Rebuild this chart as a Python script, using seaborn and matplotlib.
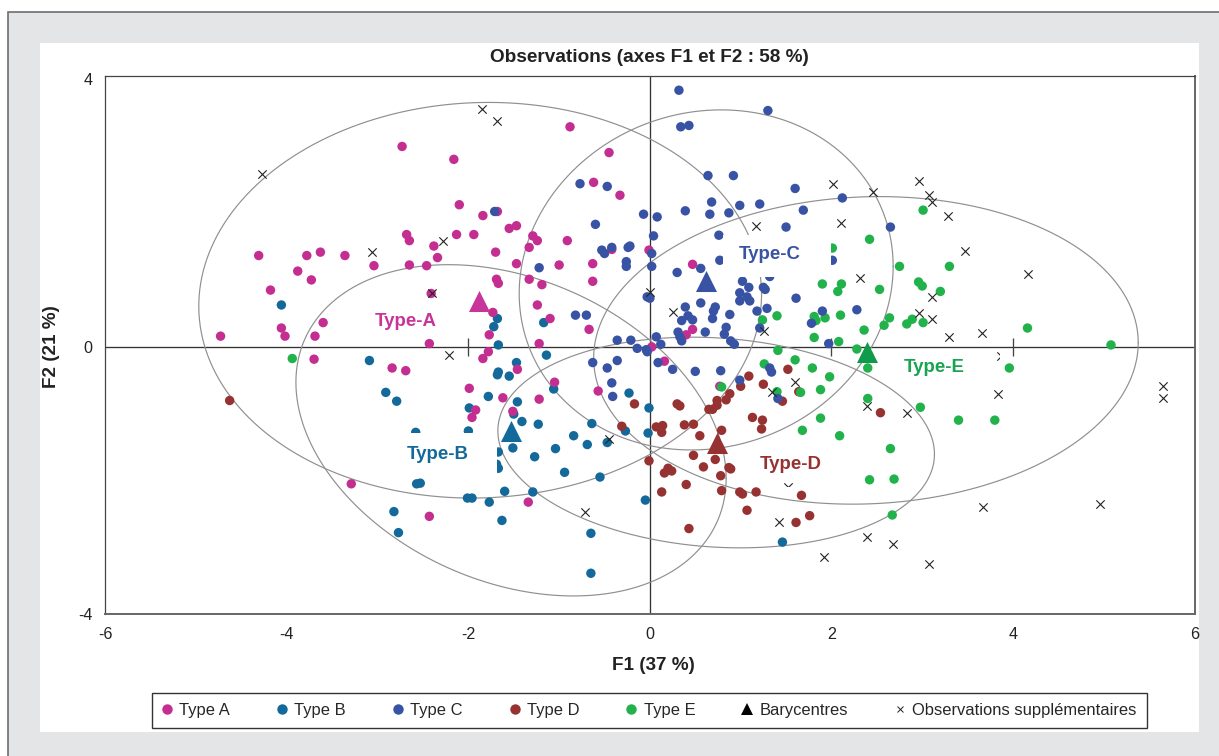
import numpy as np
import pandas as pd
import matplotlib
matplotlib.use("Agg")
import matplotlib.pyplot as plt
from matplotlib.lines import Line2D
from matplotlib.patches import Rectangle
import seaborn as sns

a_x = [-2.73,-2.16,-2.10,-1.84,-1.68,-2.68,-2.65,-2.38,-2.13,-1.94,-1.70,-4.31,-3.78,-3.63,-3.36,-3.04,-2.65,-2.46,-2.34,-3.88,-3.73,-4.18,-2.41,-1.69,-1.67,-1.73,-3.60,-4.06,-4.02,-3.69,-4.73,-1.77,-2.43,-3.70,-2.84,-2.69,-1.78,-1.84,-1.46,-1.22,-1.99,-1.62,-1.22,-1.05,-1.92,-1.96,-1.51,-0.57,-3.29,-2.43,-1.34,-0.88,-0.45,-0.62,-0.33,-1.55,-1.47,-1.29,-1.24,-1.33,-0.91,-0.42,-0.01,-1.47,-1.00,-0.63,-1.33,-1.19,-0.63,-1.24,-1.10,-0.67,0.47,0.47,0.40,0.02,0.16,0.77]
a_y = [2.96,2.77,2.10,1.94,2.00,1.66,1.57,1.49,1.66,1.66,1.40,1.35,1.35,1.40,1.35,1.20,1.21,1.20,1.32,1.12,0.99,0.84,0.79,1.00,0.94,0.51,0.36,0.28,0.16,0.16,0.16,0.18,0.05,-0.18,-0.31,-0.35,-0.07,-0.17,-0.33,0.05,-0.61,-0.75,-0.77,-0.52,-0.93,-1.04,-0.95,-0.65,-2.02,-2.50,-2.29,3.25,2.87,2.43,2.24,1.75,1.79,1.64,1.57,1.47,1.57,1.44,1.43,1.23,1.21,1.23,1.00,0.92,0.97,0.62,0.42,0.26,1.22,0.26,0.18,0.00,-0.21,-0.58]

b_x = [-4.06,-1.68,-1.72,-1.67,-3.09,-1.14,-1.47,-1.67,-1.68,-1.55,-2.91,-2.79,-1.78,-1.06,-1.46,-1.99,-1.50,-1.41,-1.23,-0.64,-2.58,-2.00,-0.84,-0.69,-1.51,-1.04,-1.27,-1.67,-0.94,-1.67,-1.69,-0.55,-2.57,-2.53,-1.60,-1.29,-2.01,-1.96,-1.77,-2.82,-1.63,-2.77,-0.65,-0.65,-0.23,-0.01,-0.02,-0.27,-0.47,-0.05,1.46,-1.17]
b_y = [0.62,0.42,0.30,0.03,-0.20,-0.12,-0.23,-0.37,-0.41,-0.43,-0.67,-0.80,-0.73,-0.62,-0.81,-0.90,-0.99,-1.10,-1.14,-1.13,-1.26,-1.24,-1.31,-1.44,-1.49,-1.50,-1.62,-1.55,-1.85,-1.79,-1.73,-1.92,-2.02,-2.01,-2.13,-2.14,-2.23,-2.23,-2.29,-2.43,-2.56,-2.74,-2.75,-3.34,-0.68,-0.90,-1.27,-1.24,-1.41,-2.26,-2.88,0.36]

c_x = [0.32,1.30,0.34,0.43,0.64,0.92,-0.77,-0.47,1.60,2.12,0.68,0.99,1.21,1.69,0.39,0.66,0.87,-0.07,0.08,-0.60,2.65,1.50,0.76,0.04,-0.42,-0.53,-0.50,-0.22,-0.24,0.02,0.77,2.01,-0.26,-0.26,-1.22,0.02,0.30,0.56,1.32,1.02,1.09,1.25,1.27,0.99,1.07,0.99,1.10,1.61,-0.03,0.00,0.56,0.39,0.72,0.70,1.18,1.29,0.88,0.69,0.42,0.47,0.35,-0.82,-0.70,1.90,2.28,1.78,0.84,0.82,1.21,0.61,0.31,0.33,0.35,0.89,0.93,1.97,0.07,0.12,-0.36,-0.21,-0.14,-0.04,-1.71,-0.03,0.09,-0.63,-0.47,-0.36,0.25,0.50,0.78,-0.42,-0.41,0.99,1.32,1.34,1.41]
c_y = [3.79,3.49,3.25,3.27,2.53,2.53,2.41,2.37,2.34,2.20,2.14,2.09,2.11,2.02,2.01,1.96,1.98,1.96,1.92,1.81,1.77,1.77,1.65,1.64,1.47,1.43,1.38,1.49,1.47,1.38,1.28,1.28,1.26,1.19,1.17,1.19,1.10,1.16,1.04,0.97,0.88,0.88,0.85,0.80,0.74,0.68,0.68,0.72,0.74,0.72,0.65,0.59,0.59,0.53,0.53,0.57,0.48,0.42,0.46,0.40,0.39,0.47,0.47,0.53,0.55,0.35,0.29,0.19,0.28,0.22,0.22,0.15,0.09,0.09,0.04,0.05,0.15,0.04,0.10,0.10,-0.02,-0.04,2.00,-0.07,-0.23,-0.23,-0.31,-0.20,-0.33,-0.36,-0.35,-0.53,-0.73,-0.49,-0.31,-0.37,-0.76]

d_x = [1.09,1.52,1.25,1.00,0.88,0.84,0.74,0.74,0.69,0.65,1.64,1.46,-0.17,0.30,0.33,2.54,1.13,1.24,1.23,0.79,0.48,0.38,0.14,0.07,0.13,-0.31,0.55,0.48,0.72,-0.01,0.59,0.87,0.89,0.20,0.16,0.24,0.78,0.40,0.13,0.79,0.99,1.02,1.17,1.67,1.07,1.76,1.61,0.43,-4.63]
d_y = [-0.43,-0.33,-0.55,-0.58,-0.69,-0.78,-0.79,-0.86,-0.92,-0.92,-0.66,-0.80,-0.84,-0.84,-0.87,-0.97,-1.04,-1.08,-1.21,-1.23,-1.14,-1.15,-1.16,-1.18,-1.26,-1.17,-1.31,-1.60,-1.66,-1.68,-1.77,-1.78,-1.80,-1.79,-1.86,-1.83,-1.90,-2.03,-2.14,-2.12,-2.14,-2.17,-2.14,-2.19,-2.41,-2.49,-2.59,-2.68,-0.79]

e_x = [3.01,2.42,2.01,2.75,3.30,1.90,2.11,2.07,2.96,3.00,2.53,3.20,1.81,1.83,1.93,2.10,2.64,2.58,2.83,2.89,3.01,2.36,1.81,2.08,4.16,5.08,2.28,2.40,1.79,1.98,3.96,1.66,1.88,2.40,2.98,1.88,3.40,3.80,1.41,1.60,1.26,0.79,1.40,1.68,2.09,2.65,2.42,2.69,2.67,1.24,1.40,-3.94]
e_y = [2.02,1.59,1.46,1.19,1.19,0.93,0.93,0.82,0.96,0.90,0.85,0.82,0.45,0.39,0.43,0.47,0.43,0.32,0.34,0.41,0.36,0.25,0.14,0.08,0.28,0.03,-0.03,-0.31,-0.31,-0.44,-0.31,-0.67,-0.63,-0.76,-0.89,-1.05,-1.08,-1.08,-0.05,-0.19,-0.25,-0.59,-0.66,-1.23,-1.31,-1.50,-1.96,-1.95,-2.48,0.40,0.46,-0.17]

sup_x = [-1.85,-1.68,-4.27,-2.28,-3.06,-2.40,1.17,2.02,2.46,2.10,2.32,0.00,0.26,1.26,2.96,3.07,3.11,3.28,3.47,4.17,3.11,2.97,3.11,3.30,3.66,3.87,5.65,5.65,3.83,2.39,2.83,1.60,1.34,1.52,1.42,1.92,2.39,2.68,3.07,3.67,-0.45,-2.21,-0.72,4.96]
sup_y = [3.52,3.34,2.56,1.57,1.40,0.80,1.79,2.40,2.29,1.83,1.02,0.81,0.52,0.23,2.45,2.24,2.14,1.94,1.41,1.08,0.74,0.50,0.42,0.15,0.20,-0.14,-0.57,-0.75,-0.70,-0.87,-0.97,-0.52,-0.66,-2.06,-2.59,-3.10,-2.81,-2.91,-3.20,-2.36,-1.36,-0.12,-2.43,-2.32]

types = ["Type A", "Type B", "Type C", "Type D", "Type E"]
palette = {"Type A": "#c42e91", "Type B": "#14699b", "Type C": "#3953a4",
           "Type D": "#973233", "Type E": "#22b24c"}
label_colors = ["#c8359a", "#14699b", "#3953a4", "#973233", "#1aa352"]
bary_colors = ["#c8359a", "#14699b", "#3953a4", "#973233", "#109a4c"]
bary_x = [-1.88, -1.53, 0.62, 0.74, 2.39]
bary_y = [0.68, -1.24, 0.98, -1.42, -0.08]
ell_cx = [-1.87, -1.53, 0.62, 0.73, 2.38]
ell_cy = [0.69, -1.23, 0.99, -1.41, -0.05]
ell_rx = [3.10, 2.37, 2.06, 2.405, 3.00]
ell_ry = [2.92, 2.445, 2.51, 1.555, 2.27]
ell_rho = [0.03, -0.29, 0.08, -0.11, 0.05]
label_names = ["Type-A", "Type-B", "Type-C", "Type-D", "Type-E"]
label_x = [-2.69, -2.34, 1.32, 1.55, 3.13]
label_y = [0.38, -1.59, 1.37, -1.74, -0.30]
mask_boxes = [(0.80, 1.04, 1.19, 0.61), (-2.87, -1.89, 1.18, 0.62),
              (3.86, -0.22, 0.09, 0.19), (1.44, -2.21, 0.16, 0.14)]
axis_ticks = [-2, 2, 4]
xticks = [-6, -4, -2, 0, 2, 4, 6]
draw_order = ["Type B", "Type A", "Type D", "Type E", "Type C"]

FONT = "Liberation Sans"
sns.set_style("white")
plt.rcParams["font.family"] = [FONT, "DejaVu Sans"]

df = pd.concat([
    pd.DataFrame({"F1": a_x, "F2": a_y, "type": "Type A"}),
    pd.DataFrame({"F1": b_x, "F2": b_y, "type": "Type B"}),
    pd.DataFrame({"F1": c_x, "F2": c_y, "type": "Type C"}),
    pd.DataFrame({"F1": d_x, "F2": d_y, "type": "Type D"}),
    pd.DataFrame({"F1": e_x, "F2": e_y, "type": "Type E"}),
])
df["type"] = pd.Categorical(df["type"], categories=draw_order, ordered=True)
df = df.sort_values("type", kind="stable")

W, H = 1219, 756
fig = plt.figure(figsize=(W / 100, H / 100), dpi=100, facecolor="white")

def frac_rect(x0, y0, x1, y1, z, **kw):
    fig.add_artist(Rectangle((x0 / W, 1 - y1 / H), (x1 - x0) / W, (y1 - y0) / H,
                             transform=fig.transFigure, zorder=z, **kw))

frac_rect(8, 12, 1230, 770, -3, facecolor="#e4e5e7", edgecolor="#6d6e70", linewidth=1.2)
frac_rect(40, 43, 1199, 732, -2, facecolor="white", edgecolor="none")

ax = fig.add_axes([105.3 / W, 1 - 613.5 / H, (1194.5 - 105.3) / W, (613.5 - 76) / H])
ax.set_facecolor("white")

ax.axhline(0, color="#333333", lw=0.95, zorder=1)
ax.axvline(0, color="#333333", lw=0.95, zorder=1)
ax.vlines(axis_ticks, -0.14, 0.14, color="#444444", lw=0.95, zorder=1)

t = np.linspace(0, 2 * np.pi, 400)
for cx, cy, rx, ry, rho in zip(ell_cx, ell_cy, ell_rx, ell_ry, ell_rho):
    ax.plot(cx + rx * np.cos(t),
            cy + ry * (rho * np.cos(t) + np.sqrt(1 - rho ** 2) * np.sin(t)),
            color="#8f8f8f", lw=0.85, zorder=1.5)

sns.scatterplot(data=df, x="F1", y="F2", hue="type", palette=palette,
                s=46, linewidth=0, legend=False, ax=ax, zorder=3)
sns.scatterplot(x=sup_x, y=sup_y, marker="x", color="#222222", s=36, linewidth=0.8,
                legend=False, ax=ax, zorder=4)

for x0, y0, w, h in mask_boxes:
    ax.add_patch(Rectangle((x0, y0), w, h, facecolor="white", edgecolor="none", zorder=5))

for bx, by, c in zip(bary_x, bary_y, bary_colors):
    ax.scatter([bx], [by], marker="^", s=230, color=c, linewidths=0, zorder=6)

for x, y, name, c in zip(label_x, label_y, label_names, label_colors):
    ax.text(x, y, name, color=c, fontsize=13.4, fontweight="bold",
            ha="center", va="center", zorder=7)

ax.set_xlim(-5.997, 6.0)
ax.set_ylim(-3.934, 4.0)

for name, s in ax.spines.items():
    s.set_visible(True)
    if name in ("right", "bottom"):
        s.set_color("#666666")
        s.set_linewidth(1.4)
    else:
        s.set_color("#444444")
        s.set_linewidth(0.9)

ax.set_xticks(xticks)
ax.set_xticklabels([str(v) for v in xticks], fontsize=11.6, color="#222222")
ax.set_yticks([-3.934, 0, 3.96])
ax.set_yticklabels(["-4", "0", "4"], fontsize=11.6, color="#222222")
ax.tick_params(axis="both", length=0)
ax.tick_params(axis="x", pad=10)
ax.tick_params(axis="y", pad=9)
ax.set_xlabel("")
ax.set_ylabel("")

fig.text(649.5 / W, 1 - 57 / H, "Observations (axes F1 et F2 : 58 %)", fontsize=13.65,
         fontweight="bold", ha="center", va="center", color="#222222")
fig.text(653 / W, 1 - 666 / H, "F1 (37 %)", fontsize=13.6, fontweight="bold",
         ha="center", va="center", color="#222222")
fig.text(52 / W, 1 - 347 / H, "F2 (21 %)", fontsize=13.6, fontweight="bold",
         ha="center", va="center", rotation=90, color="#222222")

handles = [Line2D([], [], marker="o", ls="", color=palette[k], markersize=7.5,
                  markeredgewidth=0, label=k) for k in types]
handles.append(Line2D([], [], marker="^", ls="", color="black", markersize=9,
                      markeredgewidth=0, label="Barycentres"))
handles.append(Line2D([], [], marker="x", ls="", color="#222222", markersize=5,
                      markeredgewidth=0.7, label="Observations supplémentaires"))
leg = fig.legend(handles=handles, ncol=7, loc="center", frameon=True, fancybox=False,
                 edgecolor="#333333", facecolor="white", framealpha=1, fontsize=11.9,
                 bbox_to_anchor=(649.5 / W, 1 - 710.5 / H), bbox_transform=fig.transFigure,
                 columnspacing=2.87, handletextpad=0.47, handlelength=0.55,
                 borderpad=0.6, borderaxespad=0)
leg.get_frame().set_linewidth(1.0)

fig.savefig("out.png", dpi=100, facecolor=fig.get_facecolor())
